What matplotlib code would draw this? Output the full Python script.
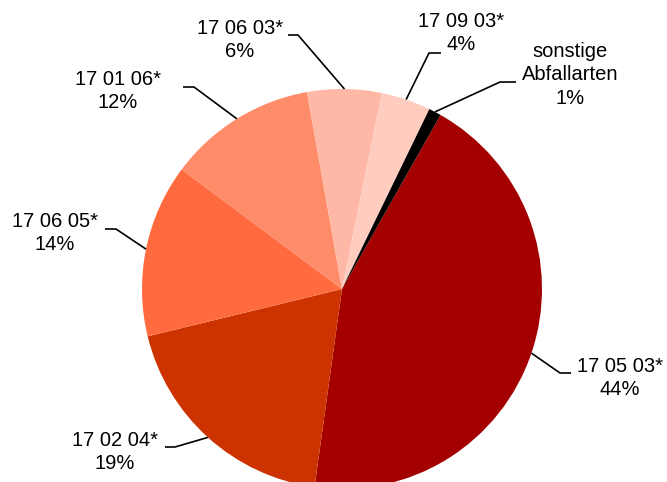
import numpy as np
import matplotlib
matplotlib.use("Agg")
import matplotlib.pyplot as plt

plt.rcParams['font.family'] = ['Liberation Sans', 'DejaVu Sans']

# Daten
labels = ['17 05 03*', '17 02 04*', '17 06 05*', '17 01 06*',
          '17 06 03*', '17 09 03*', 'sonstige\nAbfallarten']
values = [44, 19, 14, 12, 6, 4, 1]
colors = ['#A50000', '#CC3300', '#FF6B3F', '#FF8C69', '#FFB8A5', '#FFCDC0', '#000000']

# Beschriftungspositionen (Pixel): Textmitte, Knick, Ende der Linie
text_pos = [(620, 378), (115, 452), (55, 233), (118, 91), (240, 40), (461, 33), (570, 75)]
elbow_pos = [(560, 373), (175, 447), (116, 229), (194, 87), (298, 35), (429, 53), (500, 82)]
end_pos = [(571, 373), (165, 447), (105, 229), (183, 87), (288, 35), (441, 53), (516, 82)]

W, H = 667, 482
cx, cy, r = 342, 289, 200

fig = plt.figure(figsize=(W / 100, H / 100), dpi=100)
ax = fig.add_axes([0, 0, 1, 1])

wedges, _ = ax.pie(values, colors=colors, startangle=90 - 29.5, counterclock=False,
                   center=(cx, H - cy), radius=r, wedgeprops=dict(linewidth=0))
ax.set_xlim(0, W)
ax.set_ylim(0, H)
ax.set_aspect('equal')
ax.axis('off')

total = sum(values)
for w, lab, v, tp, ep, en in zip(wedges, labels, values, text_pos, elbow_pos, end_pos):
    ang = np.deg2rad((w.theta1 + w.theta2) / 2)
    px = cx + r * np.cos(ang)
    py = (H - cy) + r * np.sin(ang)
    ax.plot([px, ep[0], en[0]], [py, H - ep[1], H - en[1]], color='black', lw=1.2,
            solid_capstyle='butt')
    ax.text(tp[0], H - tp[1], f'{lab}\n{v / total * 100:.0f}%', ha='center', va='center',
            fontsize=14.5, linespacing=1.32)

fig.savefig('out.png', dpi=100)
